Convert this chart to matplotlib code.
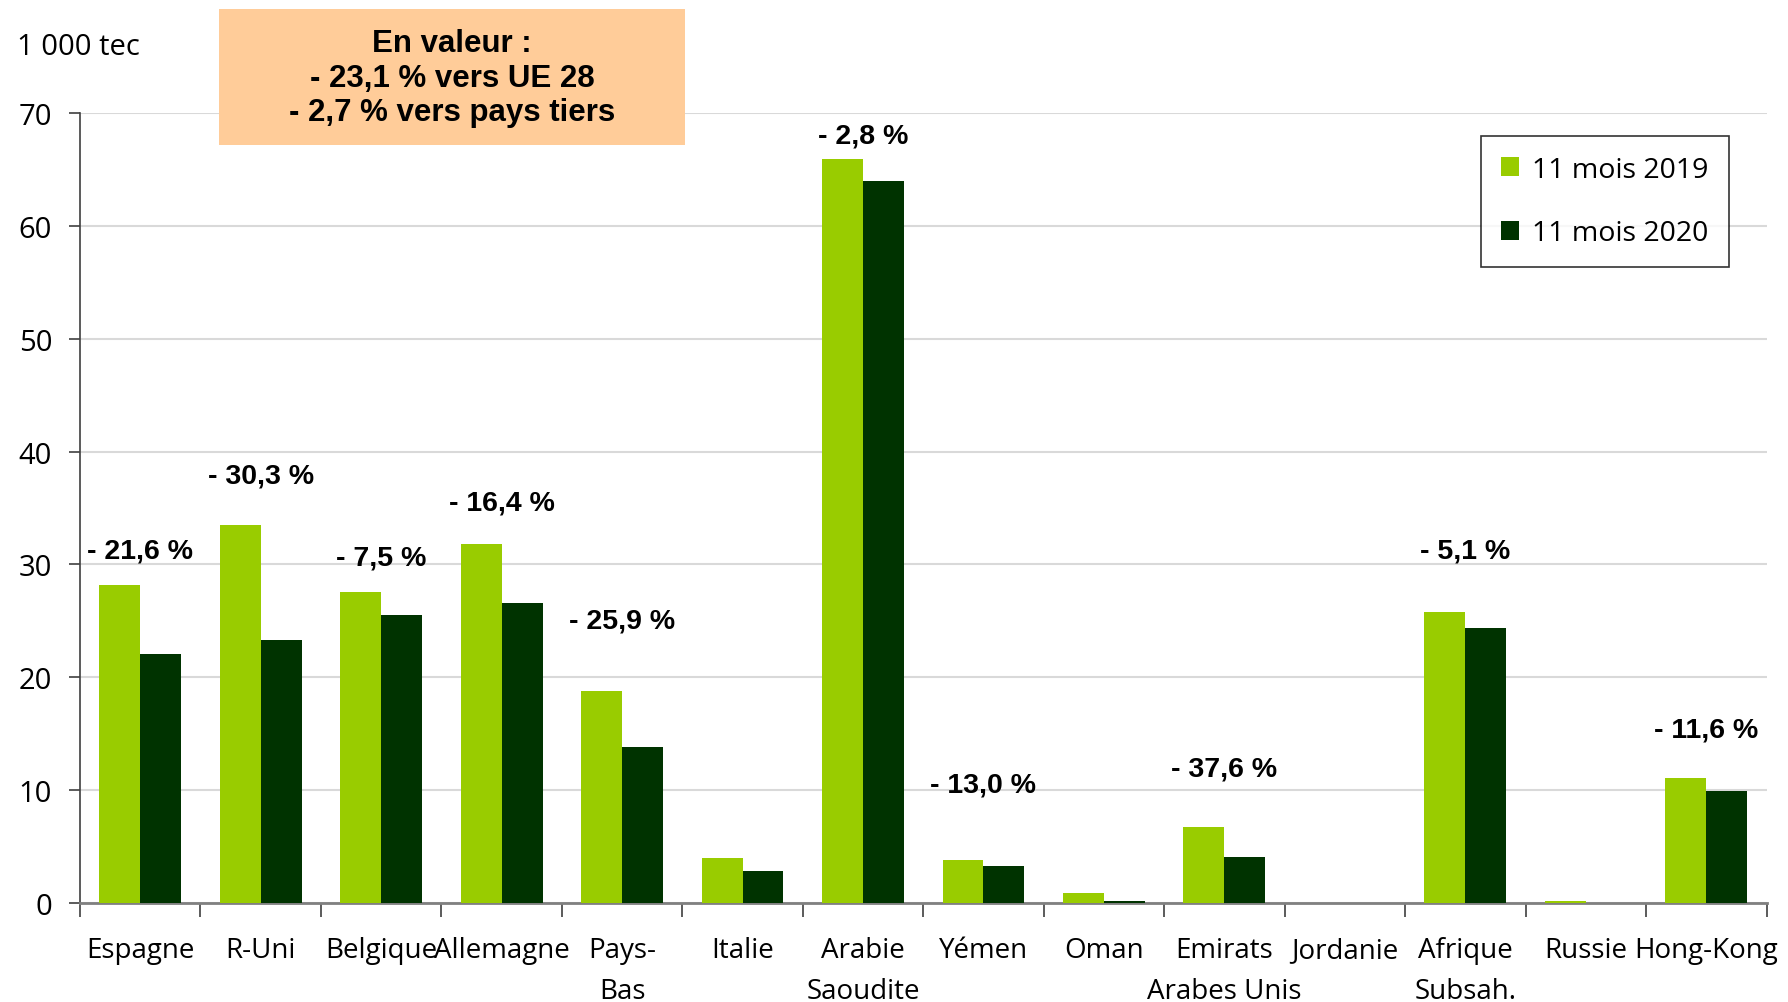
import numpy as np
import matplotlib.pyplot as plt
from matplotlib.patches import Rectangle

# pays de destination
pays = ['Espagne', 'R-Uni', 'Belgique', 'Allemagne', 'Pays-\nBas', 'Italie',
        'Arabie\nSaoudite', 'Yémen', 'Oman', 'Emirats\nArabes Unis', 'Jordanie',
        'Afrique\nSubsah.', 'Russie', 'Hong-Kong']
# volumes en 1 000 tec
v2019 = [28.2, 33.5, 27.6, 31.8, 18.8, 4.0, 65.9, 3.8, 0.9, 6.7, 0.0, 25.8, 0.2, 11.1]
v2020 = [22.1, 23.3, 25.5, 26.6, 13.8, 2.8, 64.0, 3.3, 0.2, 4.1, 0.0, 24.4, 0.0, 9.9]
# variations affichees et leur hauteur (en 1 000 tec)
variations = ['- 21,6 %', '- 30,3 %', '- 7,5 %', '- 16,4 %', '- 25,9 %', '', '- 2,8 %',
              '- 13,0 %', '', '- 37,6 %', '', '- 5,1 %', '', '- 11,6 %']
var_y = [31.2, 37.9, 30.6, 35.5, 25.0, 0, 68.0, 10.5, 0, 11.9, 0, 31.2, 0, 15.4]

plt.rcParams['font.family'] = ['Open Sans', 'DejaVu Sans']
bold_font = ['Liberation Sans', 'DejaVu Sans']

fig = plt.figure(figsize=(17.88, 10.03), dpi=100)
ax = fig.add_axes([0.0447, 0.0987, 0.9433, 0.7876])

x = np.arange(len(pays))
w = 0.34
ax.bar(x - w / 2, v2019, w, color='#99CC00', label='11 mois 2019', zorder=3)
ax.bar(x + w / 2, v2020, w, color='#003300', label='11 mois 2020', zorder=3)

for i, t in enumerate(variations):
    if t:
        ax.text(x[i], var_y[i], t, ha='center', va='center', fontsize=20.5,
                fontweight='bold', family=bold_font, zorder=4)

ax.set_xlim(-0.5, len(pays) - 0.5)
ax.set_ylim(0, 70)
ax.set_yticks(range(0, 71, 10))
ax.yaxis.grid(True, color='#D9D9D9', linewidth=1.5, zorder=0)
ax.set_xticks(x)
ax.set_xticklabels(pays, fontsize=20, linespacing=1.6)
ax.set_xticks(np.arange(-0.5, len(pays), 1), minor=True)
ax.tick_params(axis='x', which='major', length=0, pad=24)
ax.tick_params(axis='x', which='minor', length=10, width=1.2, color='#404040')
ax.tick_params(axis='y', length=8, width=1.2, labelsize=21, pad=12, color='#404040')

for s in ['top', 'right']:
    ax.spines[s].set_visible(False)
ax.spines['bottom'].set_color('#808080')
ax.spines['bottom'].set_linewidth(2)
ax.spines['left'].set_color('#404040')
ax.spines['left'].set_linewidth(1.2)

fig.text(0.0095, 0.953, '1 000 tec', fontsize=21, va='center', ha='left')

fig.patches.append(Rectangle((0.1225, 0.8544), 0.2606, 0.1356, transform=fig.transFigure,
                             facecolor='#FFCC99', edgecolor='none', zorder=1))
fig.text(0.2528, 0.9215, 'En valeur :\n- 23,1 % vers UE 28\n- 2,7 % vers pays tiers',
         ha='center', va='center', fontsize=22.5, fontweight='bold', family=bold_font,
         linespacing=1.2, zorder=2)

leg = ax.legend(loc='upper right', bbox_to_anchor=(0.9775, 0.971), borderaxespad=0,
                fontsize=20.5, frameon=True, fancybox=False, edgecolor='black',
                handlelength=0.65, handleheight=0.65, labelspacing=1.25, borderpad=0.7,
                handletextpad=0.45)
leg.get_frame().set_linewidth(1.2)

fig.savefig('out.png', dpi=100)
